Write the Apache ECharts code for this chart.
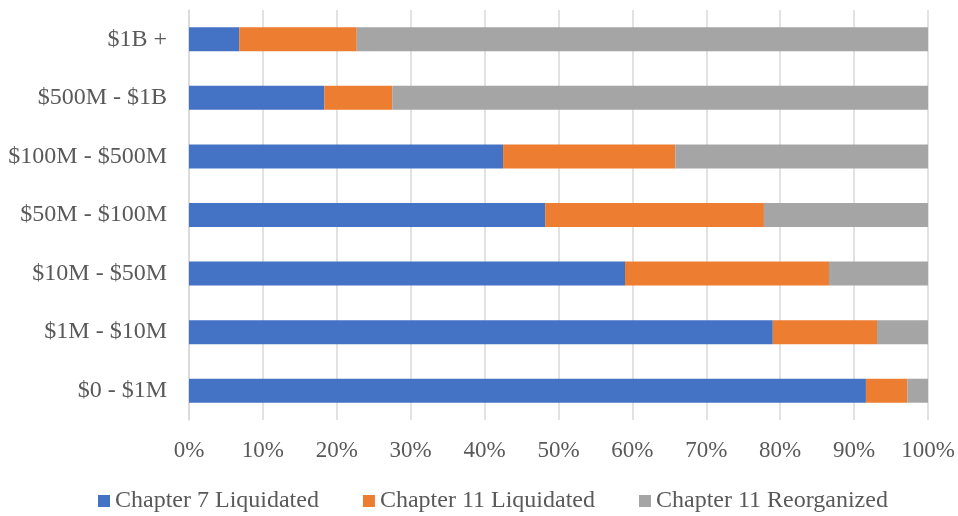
<!DOCTYPE html>
<html><head><meta charset="utf-8">
<script src="https://cdn.jsdelivr.net/npm/echarts@6/dist/echarts.min.js"></script>
<style>html,body{margin:0;padding:0;background:#fff}#c{width:958px;height:516px}</style>
</head><body><div id="c"></div>
<script>
const categories = ['$0 - $1M','$1M - $10M','$10M - $50M','$50M - $100M','$100M - $500M','$500M - $1B','$1B +'];
const ch7Liquidated = [91.6, 79.0, 59.0, 48.2, 42.5, 18.3, 6.8];
const ch11Liquidated = [5.6, 14.1, 27.6, 29.6, 23.3, 9.2, 15.9];
const ch11Reorganized = [2.8, 6.9, 13.4, 22.2, 34.2, 72.5, 77.3];
const xTicks = [0,10,20,30,40,50,60,70,80,90,100];
const seriesNames = ['Chapter 7 Liquidated','Chapter 11 Liquidated','Chapter 11 Reorganized'];
const colors = ['#4472C4','#ED7D31','#A5A5A5'];
const font = '"Liberation Serif","Times New Roman",serif';
const chart = echarts.init(document.getElementById('c'));
const mk = (name, data, color) => ({name, type:'bar', stack:'t', data, barWidth:24,
  itemStyle:{color}, emphasis:{disabled:true}});
chart.setOption({
  animation:false,
  textStyle:{fontFamily:font},
  grid:{left:189, right:30, top:10, bottom:96, containLabel:false},
  xAxis:{type:'value', min:0, max:100, interval:10,
    axisLine:{show:false}, axisTick:{show:false},
    splitLine:{lineStyle:{color:'#D9D9D9', width:1.5}},
    axisLabel:{formatter:v=>v+'%', color:'#595959', fontSize:23, fontFamily:font, margin:19}},
  yAxis:{type:'category', data:categories,
    axisLine:{show:true, lineStyle:{color:'#D9D9D9', width:1.5}}, axisTick:{show:false},
    axisLabel:{color:'#595959', fontSize:24, fontFamily:font, margin:22}},
  legend:{bottom:-2, left:93, itemWidth:12, itemHeight:12, itemGap:44, icon:'rect',
    textStyle:{color:'#595959', fontSize:24, fontFamily:font},
    data:seriesNames},
  series:[mk(seriesNames[0], ch7Liquidated, colors[0]),
          mk(seriesNames[1], ch11Liquidated, colors[1]),
          mk(seriesNames[2], ch11Reorganized, colors[2])]
});
</script></body></html>
